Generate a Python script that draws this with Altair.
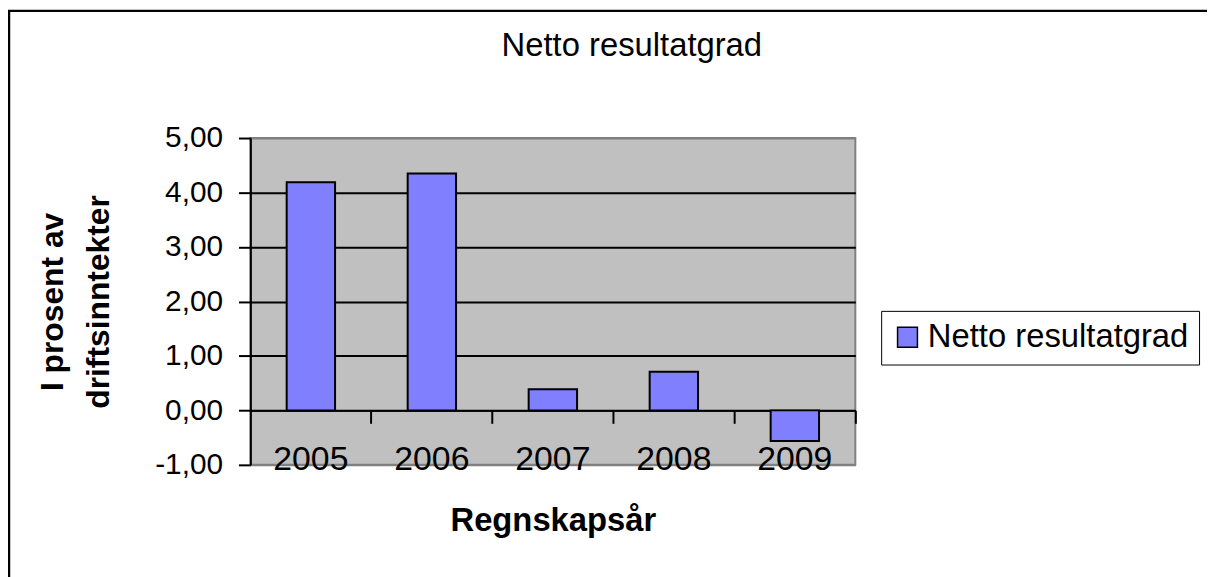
import altair as alt
import pandas as pd

years = ["2005", "2006", "2007", "2008", "2009"]
values = [4.19, 4.35, 0.39, 0.71, -0.56]
series_name = "Netto resultatgrad"
chart_title = "Netto resultatgrad"
y_ticks = [-1, 0, 1, 2, 3, 4, 5]
y_min, y_max = -1, 5

FONT = "Liberation Sans, Arial, sans-serif"
W, H = 609, 329
PAD_L, PAD_T = 244, 129
PAD_R = 1207 - PAD_L - W
PAD_B = 569 - PAD_T - H

df = pd.DataFrame({"year": years, "value": values, "series": [series_name] * len(years)})

zero_offset = -H * (0 - y_min) / (y_max - y_min)

x_enc = alt.X(
    "year:N",
    sort=years,
    scale=alt.Scale(paddingInner=0.6, paddingOuter=0.3),
    axis=alt.Axis(
        title="Regnskapsår",
        titleFont=FONT, titleFontSize=33, titleFontWeight="bold", titleColor="black",
        titleY=121, titleBaseline="alphabetic",
        labelFont=FONT, labelFontSize=34, labelColor="black", labelAngle=0,
        labelPadding=20,
        offset=zero_offset,
        domainColor="black", domainWidth=2,
        tickColor="black", tickWidth=2, tickSize=13, bandPosition=1.75,
        grid=False,
    ),
)

y_enc = alt.Y(
    "value:Q",
    scale=alt.Scale(domain=[y_min, y_max], nice=False, zero=False),
    axis=alt.Axis(
        values=y_ticks,
        labelExpr="replace(replace(format(datum.value, '.2f'), '.', ','), '\u2212', '-')",
        labelFont=FONT, labelFontSize=30, labelColor="black", labelPadding=16,
        domainColor="black", domainWidth=2,
        tickColor="black", tickWidth=2, tickSize=12,
        grid=True,
        gridColor={"condition": {"test": "datum.value == 5 || datum.value == -1", "value": "#808080"}, "value": "#000000"},
        gridWidth=2,
        title=["I prosent av", "driftsinntekter"],
        titleFont=FONT, titleFontSize=32, titleFontWeight="bold", titleColor="black",
        titleAngle=270, titleBaseline="top", titleAlign="center",
        titleX=-214, titleY=H / 2, titleLineHeight=46,
    ),
)

bars = alt.Chart(df).mark_bar(stroke="black", strokeWidth=2).encode(
    x=x_enc,
    y=y_enc,
    color=alt.Color(
        "series:N",
        scale=alt.Scale(range=["#8080FF"]),
        legend=alt.Legend(
            title=None, orient="none", legendX=635, legendY=174,
            symbolType="square", symbolSize=400, symbolStrokeColor="black", symbolStrokeWidth=1.5,
            symbolOffset=0,
            labelFont=FONT, labelFontSize=33, labelColor="black", labelOffset=4, labelLimit=0,
            strokeColor="black", fillColor="white", padding=10,
        ),
    ),
)

frame = alt.Chart(pd.DataFrame({"k": [0]})).mark_rect(
    fill="white", fillOpacity=0, stroke="black", strokeWidth=2.5
).encode(
    x=alt.value(-243), x2=alt.value(3000), y=alt.value(-128), y2=alt.value(3000)
)

title_mark = alt.Chart(pd.DataFrame({"t": [chart_title]})).mark_text(
    font=FONT, fontSize=33, color="black", align="center", baseline="alphabetic"
).encode(
    text="t:N", x=alt.value(384), y=alt.value(-83)
)

chart = alt.layer(bars, frame, title_mark).properties(
    width=W, height=H,
    autosize=alt.AutoSizeParams(type="none"),
    padding={"left": PAD_L, "top": PAD_T, "right": PAD_R, "bottom": PAD_B},
    background="white",
).configure_view(
    fill="#C0C0C0", stroke="#808080", strokeWidth=2
)

chart.save("out.html", embed_options={"renderer": "svg", "actions": False})
